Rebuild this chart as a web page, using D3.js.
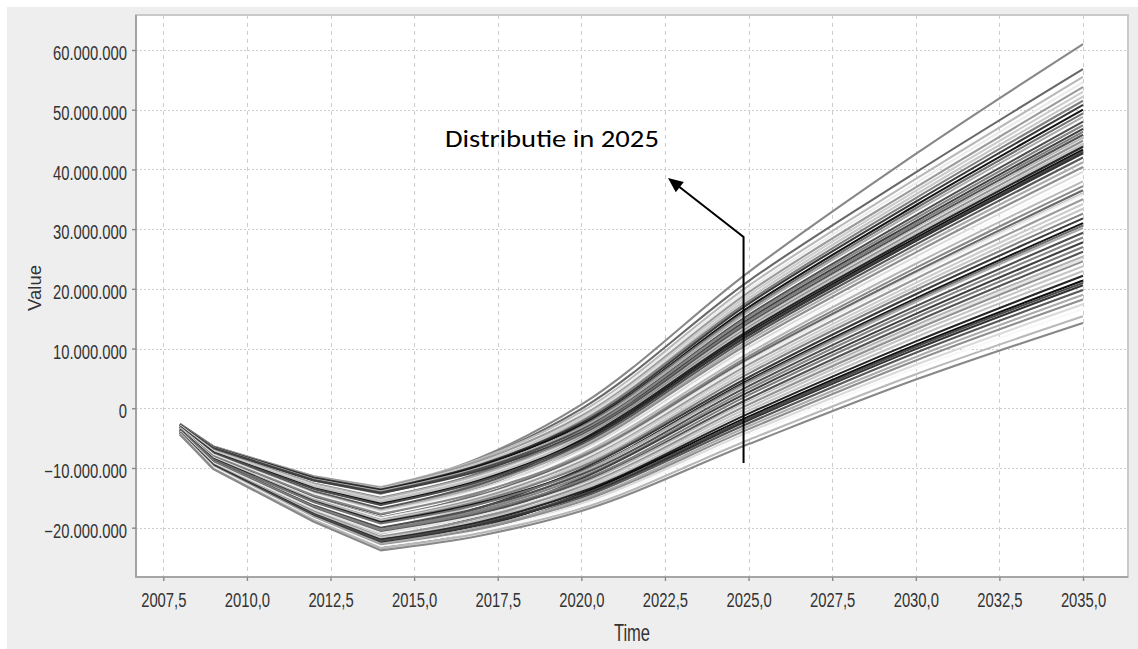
<!DOCTYPE html>
<html>
<head>
<meta charset="utf-8">
<script src="https://cdn.jsdelivr.net/npm/d3@7"></script>
<style>
  html, body { margin: 0; padding: 0; background: #ffffff; }
  svg { display: block; }
</style>
</head>
<body>
<svg id="chart" width="1138" height="649"></svg>
<script>
// Simulation runs, values in millions, sampled at the knot years below.
const knotYears = [2008, 2009, 2012, 2014, 2017, 2020, 2025, 2030, 2035];
// 2014 is the trough: linear decline before it, smooth recovery after it
const troughIndex = 3;

const runs = [
  [-2.7, -6.5, -11.6, -13.6, -8.2, 0.6, 22.8, 42.6, 61.0],
  [-2.7, -6.4, -11.5, -13.4, -8.4, -0.1, 21.3, 39.5, 56.8],
  [-2.6, -6.4, -11.4, -13.2, -8.4, -0.6, 20.5, 38.4, 55.5],
  [-2.7, -6.6, -11.7, -13.7, -8.9, -1.0, 19.9, 37.7, 54.6],
  [-2.6, -6.4, -11.4, -13.3, -8.7, -1.3, 19.4, 37.0, 53.8],
  [-2.8, -6.7, -11.9, -14.0, -9.3, -1.6, 18.9, 36.4, 53.0],
  [-2.7, -6.5, -11.6, -13.5, -9.1, -2.0, 18.4, 35.8, 52.2],
  [-2.8, -6.8, -12.1, -14.3, -9.7, -2.2, 17.9, 35.2, 51.5],
  [-2.7, -6.5, -11.6, -13.6, -9.4, -2.5, 17.5, 34.6, 50.8],
  [-2.7, -6.6, -11.8, -13.8, -9.6, -2.8, 16.9, 34.0, 50.0],
  [-3.0, -7.1, -12.9, -15.3, -10.7, -3.1, 16.5, 33.5, 49.4],
  [-2.7, -6.6, -11.9, -13.9, -9.9, -3.3, 16.2, 33.0, 48.8],
  [-2.8, -6.7, -12.0, -14.1, -10.1, -3.6, 15.6, 32.3, 48.0],
  [-3.1, -7.3, -13.2, -15.7, -11.2, -3.9, 15.3, 31.8, 47.4],
  [-2.8, -6.7, -12.1, -14.2, -10.4, -4.1, 14.9, 31.3, 46.8],
  [-2.9, -7.0, -12.6, -15.0, -10.9, -4.3, 14.6, 30.9, 46.3],
  [-3.1, -7.4, -13.4, -16.1, -11.7, -4.5, 14.2, 30.5, 45.8],
  [-2.9, -7.1, -12.7, -15.1, -11.1, -4.7, 13.9, 30.1, 45.3],
  [-3.0, -7.2, -12.9, -15.4, -11.4, -4.9, 13.7, 29.9, 45.0],
  [-3.3, -7.7, -14.1, -17.0, -12.4, -4.9, 13.6, 29.7, 44.8],
  [-3.0, -7.2, -13.0, -15.5, -11.6, -5.1, 13.3, 29.3, 44.3],
  [-3.1, -7.3, -13.2, -15.8, -11.8, -5.2, 13.1, 29.1, 44.0],
  [-3.3, -7.9, -14.4, -17.4, -12.8, -5.3, 13.0, 28.9, 43.8],
  [-3.1, -7.4, -13.4, -16.0, -12.0, -5.5, 12.6, 28.5, 43.3],
  [-3.1, -7.5, -13.5, -16.2, -12.2, -5.7, 12.4, 28.2, 43.0],
  [-3.4, -8.0, -14.7, -17.8, -13.2, -5.8, 12.2, 28.0, 42.7],
  [-3.2, -7.7, -13.9, -16.8, -12.7, -6.1, 11.8, 27.4, 42.0],
  [-3.3, -7.8, -14.2, -17.1, -13.0, -6.4, 11.3, 26.8, 41.2],
  [-3.5, -8.3, -15.2, -18.6, -14.1, -6.7, 10.8, 26.1, 40.4],
  [-3.3, -7.8, -14.3, -17.3, -13.4, -7.0, 10.2, 25.4, 39.6],
  [-3.4, -7.9, -14.4, -17.5, -13.7, -7.4, 9.7, 24.8, 38.8],
  [-3.6, -8.4, -15.5, -18.9, -14.6, -7.7, 9.2, 24.2, 38.0],
  [-3.4, -8.0, -14.6, -17.7, -14.0, -8.0, 8.7, 23.5, 37.2],
  [-3.5, -8.2, -15.0, -18.3, -14.5, -8.3, 8.3, 22.9, 36.5],
  [-3.6, -8.5, -15.7, -19.2, -15.1, -8.5, 7.9, 22.5, 36.0],
  [-3.5, -8.3, -15.1, -18.4, -14.7, -8.6, 7.8, 22.4, 35.8],
  [-3.6, -8.4, -15.3, -18.7, -15.0, -8.9, 7.3, 21.7, 35.0],
  [-3.8, -8.9, -16.4, -20.2, -16.0, -9.2, 6.8, 21.0, 34.2],
  [-3.6, -8.4, -15.4, -18.8, -15.3, -9.5, 6.3, 20.4, 33.4],
  [-3.6, -8.5, -15.5, -19.0, -15.5, -9.8, 5.8, 19.8, 32.6],
  [-3.9, -9.0, -16.7, -20.6, -16.6, -10.2, 5.2, 19.1, 31.8],
  [-3.6, -8.5, -15.6, -19.1, -15.8, -10.5, 4.7, 18.4, 31.0],
  [-3.7, -8.6, -15.7, -19.3, -16.0, -10.6, 4.5, 18.1, 30.6],
  [-3.9, -9.2, -17.0, -21.0, -17.1, -10.8, 4.2, 17.8, 30.2],
  [-3.8, -8.8, -16.3, -20.0, -16.6, -11.1, 3.7, 17.1, 29.4],
  [-3.8, -8.9, -16.5, -20.3, -17.0, -11.5, 3.2, 16.5, 28.6],
  [-4.1, -9.5, -17.6, -21.9, -18.1, -11.8, 2.7, 15.8, 27.8],
  [-3.8, -9.0, -16.6, -20.5, -17.3, -12.1, 2.2, 15.2, 27.0],
  [-3.9, -9.1, -16.8, -20.8, -17.6, -12.4, 1.6, 14.5, 26.2],
  [-4.1, -9.7, -17.9, -22.3, -18.7, -12.7, 1.1, 13.9, 25.4],
  [-3.9, -9.2, -16.9, -20.9, -17.9, -12.9, 0.9, 13.5, 25.0],
  [-4.0, -9.4, -17.3, -21.5, -18.3, -13.1, 0.6, 13.2, 24.6],
  [-4.2, -9.8, -18.3, -22.8, -19.2, -13.4, 0.1, 12.6, 23.8],
  [-4.1, -9.4, -17.5, -21.7, -18.7, -13.7, -0.4, 11.9, 23.0],
  [-4.1, -9.5, -17.7, -22.0, -19.0, -14.0, -0.9, 11.2, 22.2],
  [-4.3, -10.0, -18.6, -23.3, -19.9, -14.3, -1.4, 10.6, 21.4],
  [-4.1, -9.6, -17.8, -22.2, -19.3, -14.5, -1.7, 10.3, 21.0],
  [-4.2, -9.7, -18.1, -22.5, -19.5, -14.7, -2.0, 9.9, 20.6],
  [-4.4, -10.1, -18.8, -23.5, -20.3, -15.0, -2.5, 9.3, 19.8],
  [-4.2, -9.8, -18.2, -22.7, -19.9, -15.3, -3.0, 8.6, 19.0],
  [-4.3, -9.9, -18.4, -23.0, -20.2, -15.6, -3.5, 8.0, 18.2],
  [-4.4, -10.2, -18.9, -23.7, -20.8, -16.0, -4.0, 7.3, 17.4],
  [-4.3, -9.9, -18.5, -23.1, -20.5, -16.3, -4.5, 6.7, 16.6],
  [-4.3, -10.1, -18.7, -23.4, -20.9, -16.8, -5.3, 5.7, 15.4],
  [-4.4, -10.2, -19.0, -23.8, -21.3, -17.2, -6.0, 4.8, 14.3]
];

const UNIT = 1e6;
const xTickValues = [2007.5, 2010, 2012.5, 2015, 2017.5, 2020, 2022.5, 2025, 2027.5, 2030, 2032.5, 2035];
const yTickValues = [-20, -10, 0, 10, 20, 30, 40, 50, 60];

// Grey series palette, cycled over the runs
const shades = [
  "#888888", "#686868", "#b9b9b9", "#ececec", "#9b9b9b", "#cccccc", "#c7c7c7", "#808080",
  "#3a3a3a", "#151515", "#717171", "#ababab", "#4f4f4f", "#868686", "#404040", "#7d7d7d",
  "#535353", "#b2b2b2", "#e5e5e5", "#919191", "#c5c5c5", "#c0c0c0", "#262626", "#0e0e0e",
  "#4b4b4b", "#343434", "#595959", "#aaaaaa", "#8f8f8f", "#dadada", "#f8f8f8", "#b8b8b8"
];

// Annotation, in data units (year, millions)
const noteText = "Distributie in 2025";
const noteAnchor = [2015.92, 43.81];
const arrowPoints = [[2024.85, -9.17], [2024.85, 28.68], [2022.59, 38.56]];

const svg = d3.select("#chart");
const plot = { left: 136, top: 15, right: 1128, bottom: 577 };

const x = d3.scaleLinear().domain([2006.684, 2036.345]).range([plot.left, plot.right]);
const y = d3.scaleLinear().domain([-28.26 * UNIT, 65.86 * UNIT]).range([plot.bottom, plot.top]);

const nl = d3.formatLocale({ decimal: ",", thousands: ".", grouping: [3], currency: ["", ""] });
const fmtY = nl.format(",.0f");
const fmtX = nl.format(".1f");
const tickFont = "'Liberation Sans', Arial, Helvetica, sans-serif";

// Panel and plot background
svg.append("rect").attr("x", 7).attr("y", 7).attr("width", 1131).attr("height", 642).attr("fill", "#eeeeee");
svg.append("rect")
  .attr("x", plot.left).attr("y", plot.top)
  .attr("width", plot.right - plot.left).attr("height", plot.bottom - plot.top)
  .attr("fill", "#ffffff");

// Grid
const grid = svg.append("g").attr("stroke", "#cdcdcd").attr("stroke-width", 1);
grid.selectAll("line.v").data(xTickValues).join("line").attr("class", "v")
  .attr("x1", d => Math.round(x(d)) + 0.5).attr("x2", d => Math.round(x(d)) + 0.5)
  .attr("y1", plot.top).attr("y2", plot.bottom)
  .attr("stroke-dasharray", "4,4");
grid.selectAll("line.h").data(yTickValues).join("line").attr("class", "h")
  .attr("y1", d => Math.round(y(d * UNIT)) + 0.5).attr("y2", d => Math.round(y(d * UNIT)) + 0.5)
  .attr("x1", plot.left).attr("x2", plot.right)
  .attr("stroke-dasharray", "2,2");

// Runs
svg.append("defs").append("clipPath").attr("id", "plotClip").append("rect")
  .attr("x", plot.left).attr("y", plot.top)
  .attr("width", plot.right - plot.left).attr("height", plot.bottom - plot.top);

const declineLine = d3.line().x(d => x(d[0])).y(d => y(d[1]));
const recoveryLine = d3.line().curve(d3.curveMonotoneX).x(d => x(d[0])).y(d => y(d[1]));

const runLayer = svg.append("g")
  .attr("clip-path", "url(#plotClip)")
  .attr("fill", "none")
  .attr("stroke-width", 2.1)
  .attr("stroke-linejoin", "round")
  .attr("stroke-linecap", "butt");

runLayer.selectAll("path").data(runs).join("path")
  .attr("stroke", (d, i) => shades[i % shades.length])
  .attr("d", r => {
    const pts = knotYears.map((yr, k) => [yr, r[k] * UNIT]);
    const head = declineLine(pts.slice(0, troughIndex + 1));
    const tail = recoveryLine(pts.slice(troughIndex)).replace(/^M/, "L");
    return head + tail;
  });

// Plot outline
svg.append("rect")
  .attr("x", plot.left).attr("y", plot.top)
  .attr("width", plot.right - plot.left).attr("height", plot.bottom - plot.top)
  .attr("fill", "none").attr("stroke", "#c9c9c9").attr("stroke-width", 2);
svg.append("path")
  .attr("d", `M${plot.left},${plot.top}V${plot.bottom}H${plot.right}`)
  .attr("fill", "none").attr("stroke", "#9a9a9a").attr("stroke-width", 1.6);

// Axes
const yAxis = svg.append("g")
  .attr("transform", `translate(${plot.left},0)`)
  .call(d3.axisLeft(y).tickValues(yTickValues.map(v => v * UNIT)).tickSize(4).tickFormat(fmtY));
yAxis.select(".domain").remove();
yAxis.selectAll(".tick line").attr("stroke", "#8a8a8a").attr("stroke-width", 1.4);
yAxis.selectAll(".tick text")
  .attr("x", 0).attr("dy", null)
  .attr("transform", "translate(-9,9.7) scale(0.76,1)")
  .attr("font-family", tickFont).attr("font-size", 19.5).attr("fill", "#333333");

const xAxis = svg.append("g")
  .attr("transform", `translate(0,${plot.bottom})`)
  .call(d3.axisBottom(x).tickValues(xTickValues).tickSize(4).tickFormat(fmtX));
xAxis.select(".domain").remove();
xAxis.selectAll(".tick line").attr("stroke", "#8a8a8a").attr("stroke-width", 1.4);
xAxis.selectAll(".tick text")
  .attr("y", 0).attr("dy", null)
  .attr("transform", "translate(0,29.5) scale(0.76,1)")
  .attr("font-family", tickFont).attr("font-size", 19.5).attr("fill", "#333333");

// Axis titles
svg.append("text")
  .attr("transform", `translate(${(plot.left + plot.right) / 2},641) scale(0.72,1)`)
  .attr("text-anchor", "middle")
  .attr("font-family", tickFont).attr("font-size", 23).attr("fill", "#333333")
  .text("Time");
svg.append("text")
  .attr("transform", "translate(41,288) rotate(-90)")
  .attr("text-anchor", "middle")
  .attr("font-family", tickFont).attr("font-size", 18.5).attr("fill", "#333333")
  .text("Value");

// Annotation: label and arrow pointing at the 2025 spread
svg.append("text")
  .attr("x", x(noteAnchor[0])).attr("y", y(noteAnchor[1] * UNIT))
  .attr("font-family", "Carlito, Calibri, Lato, 'Open Sans', sans-serif")
  .attr("font-size", 24).attr("fill", "#000000")
  .attr("textLength", 214).attr("lengthAdjust", "spacingAndGlyphs")
  .text(noteText);

const arrowPx = arrowPoints.map(p => [x(p[0]), y(p[1] * UNIT)]);
const tip = arrowPx[arrowPx.length - 1];
const from = arrowPx[arrowPx.length - 2];
const ang = Math.atan2(tip[1] - from[1], tip[0] - from[0]);
const headLen = 15, headHalf = 6.5;
const base = [tip[0] - headLen * Math.cos(ang), tip[1] - headLen * Math.sin(ang)];
const shaftEnd = [tip[0] - (headLen - 2) * Math.cos(ang), tip[1] - (headLen - 2) * Math.sin(ang)];

svg.append("path")
  .attr("d", d3.line()([...arrowPx.slice(0, -1), shaftEnd]))
  .attr("fill", "none").attr("stroke", "#000000").attr("stroke-width", 2);
svg.append("path")
  .attr("d", d3.line()([
    tip,
    [base[0] + headHalf * Math.sin(ang), base[1] - headHalf * Math.cos(ang)],
    [base[0] - headHalf * Math.sin(ang), base[1] + headHalf * Math.cos(ang)]
  ]) + "Z")
  .attr("fill", "#000000");
</script>
</body>
</html>
